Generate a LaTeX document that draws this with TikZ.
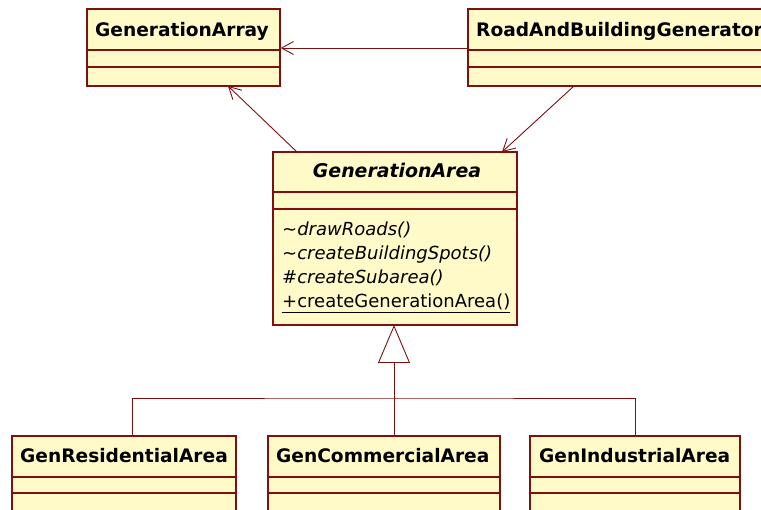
\documentclass[tikz,border=0pt]{standalone}
\usepackage{fontspec}
\setmainfont{DejaVu Sans}
\usetikzlibrary{arrows.meta,calc}
\definecolor{umlfill}{RGB}{255,250,200}
\definecolor{umlline}{RGB}{128,16,16}
\tikzset{
  classbox/.style={draw=umlline, fill=umlfill, line width=1.3pt, rectangle, inner sep=0pt},
  divider/.style={draw=umlline, line width=1.3pt},
  classname/.style={anchor=base west, inner sep=0pt, font=\fontsize{18.6}{20}\selectfont\bfseries},
  absname/.style={anchor=base, inner sep=0pt, font=\fontsize{18.9}{20}\selectfont\bfseries\itshape},
  member/.style={anchor=base west, inner sep=0pt, font=\fontsize{18}{20}\selectfont},
  link/.style={draw=umlline, line width=0.9pt},
  assoc/.style={link, -{Straight Barb[length=12pt,width=13pt,line width=0.9pt]}},
  inherit/.style={link, -{Triangle[open,length=38pt,width=32pt,line width=0.9pt,fill=white]}}
}
\begin{document}
\begin{tikzpicture}[x=1pt,y=-1pt]
\useasboundingbox (0,0) rectangle (761,510);
\fill[white] (0,0) rectangle (761,510);
\clip (0,0) rectangle (761,510);

% class boxes
\node[classbox, minimum width=193pt, minimum height=77pt] (ga) at (183.5,47.5) {};
\node[classbox, minimum width=307pt, minimum height=77pt] (rbg) at (621.5,47.5) {};
\node[classbox, minimum width=244pt, minimum height=173pt] (area) at (395,238.5) {};
\node[classbox, minimum width=224pt, minimum height=100pt] (res) at (124,486) {};
\node[classbox, minimum width=232pt, minimum height=100pt] (com) at (384,486) {};
\node[classbox, minimum width=210pt, minimum height=100pt] (ind) at (635,486) {};

% compartment dividers
\foreach \b in {ga,rbg}{
  \draw[divider] (\b.west |- 0,50) -- (\b.east |- 0,50);
  \draw[divider] (\b.west |- 0,67) -- (\b.east |- 0,67);
}
\draw[divider] (area.west |- 0,192) -- (area.east |- 0,192);
\draw[divider] (area.west |- 0,209) -- (area.east |- 0,209);
\foreach \b in {res,com,ind}{
  \draw[divider] (\b.west |- 0,477) -- (\b.east |- 0,477);
  \draw[divider] (\b.west |- 0,493) -- (\b.east |- 0,493);
}

% class names
\node[classname] (gaName) at (95,37) {GenerationArray};
\node[classname] (rbgName) at (476,37) {RoadAndBuildingGenerator};
\node[absname] (areaName) at (397,178) {GenerationArea};
\node[classname] (resName) at (20,463) {GenResidentialArea};
\node[classname] (comName) at (276,463) {GenCommercialArea};
\node[classname] (indName) at (539,463) {GenIndustrialArea};

% operations of GenerationArea
\node[member] (op1) at (282,236) {\itshape\textasciitilde drawRoads()};
\node[member] (op2) at (282,260) {\itshape\textasciitilde createBuildingSpots()};
\node[member] (op3) at (282,284) {\itshape\#createSubarea()};
\node[member] (op4) at (282,308) {\underline{+createGenerationArea()}};

% association end points
\coordinate (rbgW) at (rbg.west |- 0,48);
\coordinate (gaE) at (ga.east |- 0,48);
\coordinate (areaNW) at ($(area.north west)+(24,0)$);
\coordinate (gaS) at (228,86);
\coordinate (rbgS) at (574,86);
\coordinate (areaNE) at (502,152);

% generalization end points
\coordinate (hub) at (394,398);
\coordinate (areaS) at (394,325);
\coordinate (resN) at (132,436);
\coordinate (comN) at (394,436);
\coordinate (indN) at (635,436);

% associations
\draw[assoc] (rbgW) -- (gaE);
\draw[assoc] (areaNW) -- (gaS);
\draw[assoc] (rbgS) -- (areaNE);

% generalization tree
\draw[link] (resN) |- (hub) -| (indN);
\draw[link] (comN) -- (hub);
\draw[inherit] (hub) -- (areaS);
\end{tikzpicture}
\end{document}
